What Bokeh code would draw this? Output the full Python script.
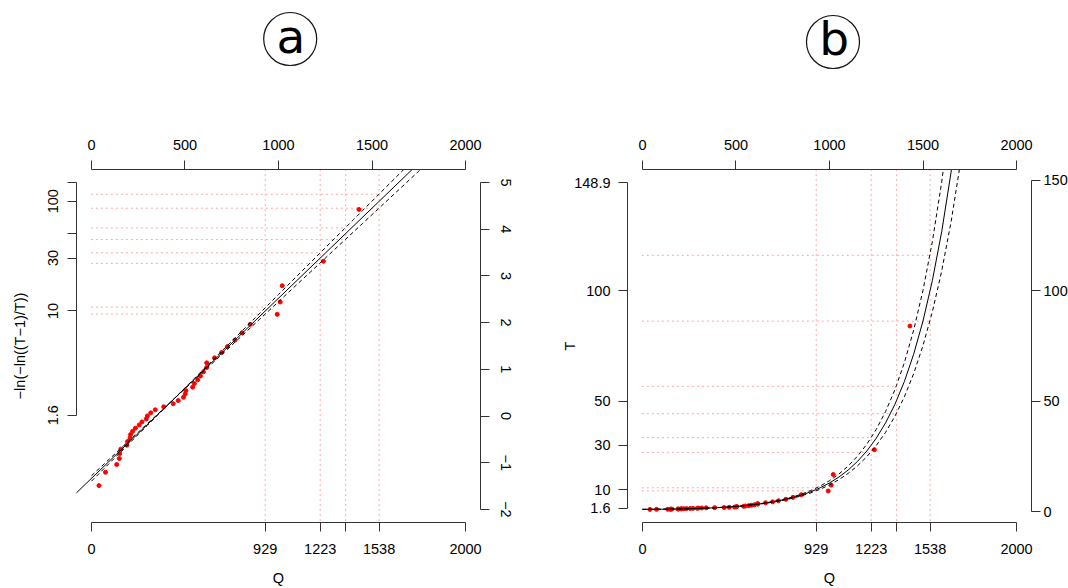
import math
from bokeh.plotting import figure
from bokeh.layouts import column, row
from bokeh.models import Range1d, FixedTicker, Span, Slope, LinearAxis, Grid
from bokeh.embed import file_html
from bokeh.resources import INLINE
from bokeh.core.properties import value

# ---------------- data ----------------
# observed annual maxima (ascending) and their plotting-position return periods
obs_Q = [40, 75, 135, 149, 151, 157, 189, 193, 206, 209,
         220, 235, 255, 270, 293, 299, 317, 341, 386, 437,
         464, 492, 501, 505, 541, 550, 568, 583, 599, 616,
         616, 658, 696, 727, 767, 805, 849, 993, 1009, 1020,
         1240, 1430]
obs_T = [1.012, 1.037, 1.063, 1.091, 1.12, 1.151, 1.183, 1.217, 1.254, 1.292,
         1.333, 1.377, 1.424, 1.474, 1.527, 1.585, 1.647, 1.714, 1.787, 1.867,
         1.953, 2.049, 2.154, 2.27, 2.4, 2.545, 2.71, 2.897, 3.111, 3.36,
         3.652, 4.0, 4.421, 4.941, 5.6, 6.462, 7.636, 9.333, 12.0, 16.8,
         28.0, 84.0]

# fitted Gumbel line (location, scale) and its curve / confidence band (reduced variate)
gumbel_loc = 346.0
gumbel_scale = 259.2
curve_Q = [0, 50, 100, 150, 200, 250, 300, 350, 400, 450, 500, 550, 600, 650,
           700, 750, 800, 850, 900, 950, 1000, 1050, 1100, 1150, 1200, 1250,
           1300, 1350, 1400, 1450, 1500, 1550, 1600, 1650, 1700, 1750, 1800]
fit_y = [-1.335, -1.142, -0.949, -0.756, -0.563, -0.370, -0.177, 0.015, 0.208,
         0.401, 0.594, 0.787, 0.980, 1.173, 1.366, 1.559, 1.752, 1.944, 2.137,
         2.330, 2.523, 2.716, 2.909, 3.102, 3.295, 3.488, 3.681, 3.873, 4.066,
         4.259, 4.452, 4.645, 4.838, 5.031, 5.224, 5.417, 5.610]
upper_y = [-1.279, -1.093, -0.906, -0.720, -0.533, -0.347, -0.160, 0.026, 0.212,
           0.404, 0.604, 0.804, 1.004, 1.204, 1.404, 1.603, 1.803, 2.003, 2.203,
           2.403, 2.603, 2.803, 3.003, 3.203, 3.403, 3.603, 3.803, 4.002, 4.202,
           4.402, 4.602, 4.802, 5.002, 5.202, 5.402, 5.602, 5.801]
lower_y = [-1.395, -1.195, -0.995, -0.795, -0.595, -0.395, -0.196, 0.004, 0.204,
           0.398, 0.585, 0.771, 0.958, 1.144, 1.330, 1.517, 1.703, 1.890, 2.076,
           2.262, 2.449, 2.635, 2.822, 3.008, 3.194, 3.381, 3.567, 3.754, 3.940,
           4.126, 4.313, 4.499, 4.686, 4.872, 5.058, 5.245, 5.431]

# design discharges and the return periods where the band meets them
design_Q = [929, 1223, 1359, 1538]
ci_T_low = [9.4, 26.8, 44.3, 86.2]
ci_T_high = [10.8, 33.5, 56.7, 116.0]

# axis ticks / labels
T_ticks = [1.6, 10, 30, 50, 100, 148.9]
T_labels_a = ["1.6", "10", "30", "", "100", ""]
T_labels_b = ["1.6", "10", "30", "50", "100", "148.9"]
y_ticks_right = [-2, -1, 0, 1, 2, 3, 4, 5]
y_labels_right = ["\u22122", "\u22121", "0", "1", "2", "3", "4", "5"]
T_ticks_right = [0, 50, 100, 150]
Q_ticks_top = [0, 500, 1000, 1500, 2000]
Q_ticks_bottom = [0] + design_Q + [2000]
Q_labels_bottom = ["0", "929", "1223", "", "1538", "2000"]
panel_labels = ["a", "b"]


def red_var(T):
    return -math.log(-math.log(1.0 - 1.0 / T))


def ret_per(y):
    return 1.0 / (1.0 - math.exp(-math.exp(-y)))


FONT = "Liberation Sans"
FS = "14.5px"
AXC = "#333333"
RED = "#ff2020"
DOT = "1 4"


def no_grid(p):
    for r in list(p.center):
        if isinstance(r, Grid):
            r.visible = False


def style_axis(ax, ticks, labels, bounds, orient, standoff, label=None, lstand=0):
    ax.ticker = FixedTicker(ticks=list(ticks), minor_ticks=[])
    ax.major_label_overrides = {float(t): l for t, l in zip(ticks, labels)}
    ax.bounds = bounds
    ax.major_tick_out = 9
    ax.major_tick_in = 0
    ax.minor_tick_out = 0
    ax.minor_tick_in = 0
    ax.axis_line_color = AXC
    ax.major_tick_line_color = AXC
    ax.axis_line_width = 1
    ax.major_label_text_font = FONT
    ax.major_label_text_font_size = FS
    ax.major_label_text_color = "black"
    ax.major_label_standoff = standoff
    ax.major_label_orientation = orient
    if label is not None:
        ax.axis_label = label
        ax.axis_label_text_font = FONT
        ax.axis_label_text_font_size = FS
        ax.axis_label_text_font_style = "normal"
        ax.axis_label_text_color = "black"
        ax.axis_label_standoff = lstand


def base(xr, yr, left, right):
    p = figure(frame_width=404, frame_height=353, x_range=xr, y_range=yr,
               min_border_left=left, min_border_right=right, min_border_top=69,
               min_border_bottom=0, output_backend="svg", toolbar_location=None,
               x_axis_location=None, y_axis_location=None)
    no_grid(p)
    p.outline_line_color = None
    p.background_fill_color = "white"
    p.border_fill_color = "white"
    return p


h_Q = design_Q + design_Q
h_T = ci_T_low + ci_T_high
h_start = [0] * len(h_Q)

# ---------------- panel a ----------------
pa = base(Range1d(-80, 2080), Range1d(-2.28, 5.28), 76, 70)
pa.scatter(obs_Q, [red_var(t) for t in obs_T], size=4, color="red")
ya = [red_var(t) for t in h_T]
pa.segment(x0=h_start, y0=ya, x1=h_Q, y1=ya, line_color=RED, line_dash=DOT,
           line_width=1, line_alpha=0.75)
for q in design_Q:
    pa.add_layout(Span(location=q, dimension="height", line_color=RED,
                       line_dash=DOT, line_width=1, line_alpha=0.75))
pa.add_layout(Slope(gradient=1.0 / gumbel_scale, y_intercept=-gumbel_loc / gumbel_scale,
                    line_color="black", line_width=1))
pa.line(curve_Q, upper_y, line_color="black", line_dash="4 3", line_width=1)
pa.line(curve_Q, lower_y, line_color="black", line_dash="4 3", line_width=1)

ax = LinearAxis()
style_axis(ax, Q_ticks_bottom, Q_labels_bottom, (0, 2000), "horizontal", 12, "Q", 13)
pa.add_layout(ax, "below")
ax = LinearAxis()
style_axis(ax, Q_ticks_top, [str(v) for v in Q_ticks_top], (0, 2000), "horizontal", 11)
pa.add_layout(ax, "above")
tick_y = [red_var(t) for t in T_ticks]
ax = LinearAxis()
style_axis(ax, tick_y, T_labels_a, (tick_y[0], tick_y[-1]), "vertical", 9,
           "\u2212ln(\u2212ln((T\u22121)/T))", 18)
pa.add_layout(ax, "left")
ax = LinearAxis()
style_axis(ax, y_ticks_right, y_labels_right, (-2, 5), "vertical", 11)
pa.add_layout(ax, "right")

# ---------------- panel b ----------------
pb = base(Range1d(-80, 2080), Range1d(-4.92, 154.82), 77, 20)
pb.scatter(obs_Q, obs_T, size=4, color="red")
pb.segment(x0=h_start, y0=h_T, x1=h_Q, y1=h_T, line_color=RED, line_dash=DOT,
           line_width=1, line_alpha=0.75)
for q in design_Q:
    pb.add_layout(Span(location=q, dimension="height", line_color=RED,
                       line_dash=DOT, line_width=1, line_alpha=0.75))
pb.line(curve_Q, [ret_per(v) for v in fit_y], line_color="black", line_width=1)
pb.line(curve_Q, [ret_per(v) for v in upper_y], line_color="black", line_dash="4 3", line_width=1)
pb.line(curve_Q, [ret_per(v) for v in lower_y], line_color="black", line_dash="4 3", line_width=1)

ax = LinearAxis()
style_axis(ax, Q_ticks_bottom, Q_labels_bottom, (0, 2000), "horizontal", 12, "Q", 13)
pb.add_layout(ax, "below")
ax = LinearAxis()
style_axis(ax, Q_ticks_top, [str(v) for v in Q_ticks_top], (0, 2000), "horizontal", 11)
pb.add_layout(ax, "above")
ax = LinearAxis()
style_axis(ax, T_ticks, T_labels_b, (T_ticks[0], T_ticks[-1]), "horizontal", 8, "T", -7)
pb.add_layout(ax, "left")
ax = LinearAxis()
style_axis(ax, T_ticks_right, [str(v) for v in T_ticks_right], (0, 150), "horizontal", 3)
pb.add_layout(ax, "right")

# ---------------- circled panel letters ----------------
top = figure(width=1068, height=100, x_range=Range1d(0, 1068), y_range=Range1d(100, 0),
             min_border=0, output_backend="svg", toolbar_location=None,
             x_axis_location=None, y_axis_location=None)
no_grid(top)
top.outline_line_color = None
top.scatter([289.7, 832.5], [38.5, 41.5], marker="circle", size=53, fill_color=None,
            line_color="#111111", line_width=1.2)
top.text(x=[290.5, 833.7], y=[35.5, 37.9], text=panel_labels, text_align="center",
         text_baseline="alphabetic", text_font=value("DejaVu Sans"),
         text_font_size=value("47px"), text_color="black")

layout = column(top, row(pa, pb))
open("out.html", "w").write(file_html(layout, INLINE))
